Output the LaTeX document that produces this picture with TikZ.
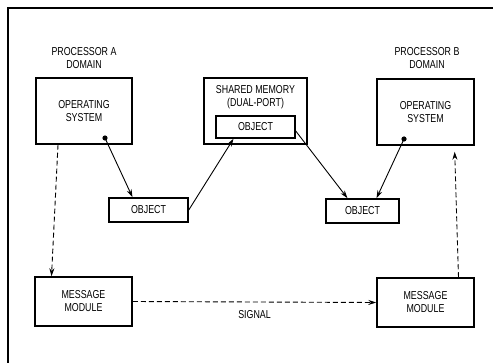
\documentclass[tikz,border=0pt]{standalone}
\usepackage{fontspec}
\newfontfamily\diagfont[FakeStretch=0.77]{Liberation Sans}
\usetikzlibrary{arrows.meta,positioning}

\begin{document}
\begin{tikzpicture}[x=1pt, y=-1pt,
  every node/.style={font=\diagfont\fontsize{11.5}{13}\selectfont, align=center, inner sep=0pt},
  box/.style={draw, line width=1.5pt, rectangle},
  conn/.style={-{Stealth[length=8pt,width=5pt]}, line width=0.9pt},
  msg/.style={conn, dash pattern=on 5pt off 3pt}]
  \useasboundingbox (0,0) rectangle (500,363);
  %% Outer frame (cut off at right and bottom)
  \draw[line width=1.6pt] (8,370) -- (8,8) -- (493,8);

  %% Domain captions
  \node (capA) at (84,58) {PROCESSOR A\\DOMAIN};
  \node (capB) at (427,58) {PROCESSOR B\\DOMAIN};

  %% Operating systems
  \node[box, minimum width=96pt, minimum height=66pt] (osA) at (84,111) {OPERATING\\SYSTEM};
  \node[box, minimum width=97pt, minimum height=66pt] (osB) at (425.5,112) {OPERATING\\SYSTEM};

  %% Shared memory with its object
  \node[box, minimum width=103pt, minimum height=66pt] (shm) at (255.5,111) {};
  \node (shmlab) at (255.5,97.5) {SHARED MEMORY\\(DUAL-PORT)};
  \node[box, minimum width=79pt, minimum height=22pt] (objM) at (255.5,127) {OBJECT};

  %% Local objects
  \node[box, minimum width=79pt, minimum height=24pt] (objL) at (148.5,210) {OBJECT};
  \node[box, minimum width=73pt, minimum height=24pt] (objR) at (362.5,211) {OBJECT};

  %% Message modules
  \node[box, minimum width=97pt, minimum height=49pt] (mmA) at (83.5,301.5) {MESSAGE\\MODULE};
  \node[box, minimum width=97pt, minimum height=49pt] (mmB) at (425.5,302.5) {MESSAGE\\MODULE};

  %% Object references
  \coordinate (dotA) at (105,138);
  \coordinate (dotB) at (404,139);
  \fill (dotA) circle (2.6pt);
  \fill (dotB) circle (2.6pt);
  \draw[conn] (dotA) -- ([xshift=-16pt]objL.north);
  \draw[conn] (objL.east) -- ([xshift=-22pt]objM.south);
  \draw[conn] ([yshift=-4pt]objM.east) -- ([xshift=-15pt]objR.north);
  \draw[conn] (dotB) -- ([xshift=14pt]objR.north);

  %% Message paths
  \draw[msg] ([xshift=-26pt]osA.south) -- ([xshift=-32pt]mmA.north);
  \draw[msg] (mmA.east) -- (mmB.west) node[pos=0.5, below=8pt] (sig) {SIGNAL};
  \draw[msg, shorten >=6pt] ([xshift=33pt]mmB.north) -- ([xshift=29pt]osB.south);
\end{tikzpicture}
\end{document}
